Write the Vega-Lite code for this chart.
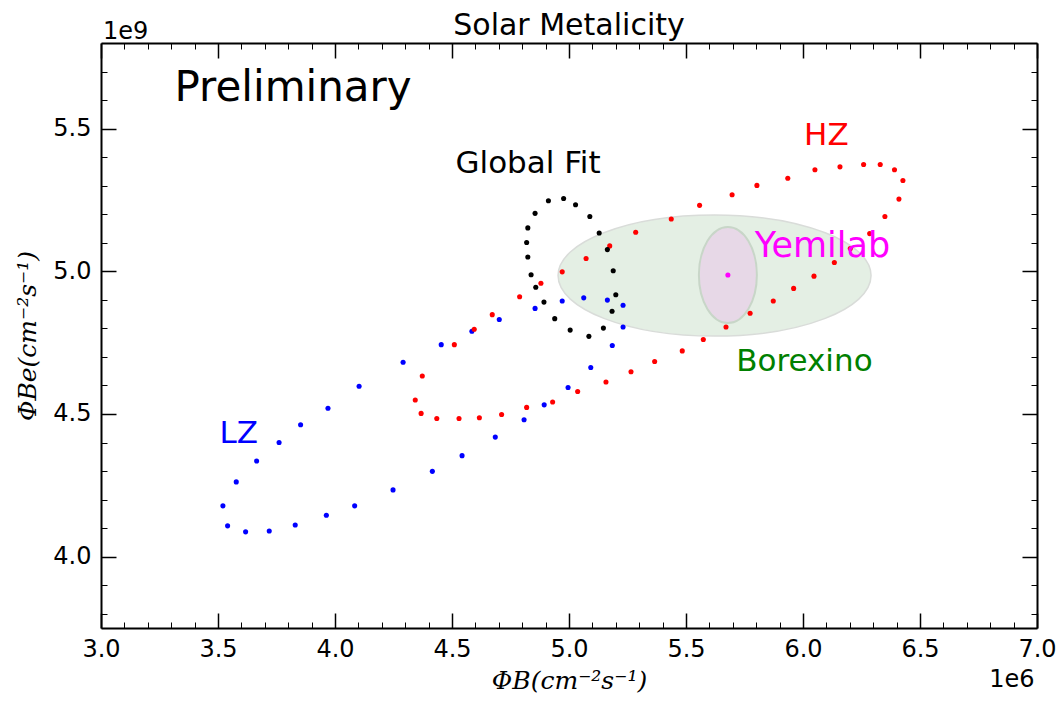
{
  "$schema": "https://vega.github.io/schema/vega-lite/v6.json",
  "width": 936,
  "height": 585,
  "autosize": "none",
  "padding": {"left": 101, "top": 43, "right": 26, "bottom": 80},
  "background": "white",
  "title": {"text": "Solar Metalicity", "fontSize": 30, "font": "DejaVu Sans", "fontWeight": "normal", "color": "black", "anchor": "middle", "frame": "group", "offset": -21},
  "config": {"view": {"stroke": null}, "font": "DejaVu Sans"},
  "datasets": {
    "points": [
      {"s": "LZ", "x": 3.521, "y": 4.178}, {"s": "LZ", "x": 3.578, "y": 4.262}, {"s": "LZ", "x": 3.665, "y": 4.335}, {"s": "LZ", "x": 3.761, "y": 4.400},
      {"s": "LZ", "x": 3.853, "y": 4.462}, {"s": "LZ", "x": 3.970, "y": 4.520}, {"s": "LZ", "x": 4.103, "y": 4.597}, {"s": "LZ", "x": 4.291, "y": 4.681},
      {"s": "LZ", "x": 4.454, "y": 4.743}, {"s": "LZ", "x": 4.585, "y": 4.790}, {"s": "LZ", "x": 4.702, "y": 4.831}, {"s": "LZ", "x": 4.855, "y": 4.870},
      {"s": "LZ", "x": 4.971, "y": 4.896}, {"s": "LZ", "x": 5.063, "y": 4.907}, {"s": "LZ", "x": 5.164, "y": 4.899}, {"s": "LZ", "x": 5.231, "y": 4.881},
      {"s": "LZ", "x": 5.231, "y": 4.805}, {"s": "LZ", "x": 5.185, "y": 4.740}, {"s": "LZ", "x": 5.093, "y": 4.663}, {"s": "LZ", "x": 4.996, "y": 4.593},
      {"s": "LZ", "x": 4.894, "y": 4.532}, {"s": "LZ", "x": 4.808, "y": 4.480}, {"s": "LZ", "x": 4.685, "y": 4.419}, {"s": "LZ", "x": 4.543, "y": 4.354},
      {"s": "LZ", "x": 4.416, "y": 4.299}, {"s": "LZ", "x": 4.248, "y": 4.234}, {"s": "LZ", "x": 4.084, "y": 4.178}, {"s": "LZ", "x": 3.963, "y": 4.145},
      {"s": "LZ", "x": 3.830, "y": 4.111}, {"s": "LZ", "x": 3.719, "y": 4.090}, {"s": "LZ", "x": 3.618, "y": 4.087}, {"s": "LZ", "x": 3.541, "y": 4.108},
      {"s": "HZ", "x": 4.343, "y": 4.549}, {"s": "HZ", "x": 4.373, "y": 4.633}, {"s": "HZ", "x": 4.510, "y": 4.743}, {"s": "HZ", "x": 4.595, "y": 4.797},
      {"s": "HZ", "x": 4.672, "y": 4.848}, {"s": "HZ", "x": 4.789, "y": 4.911}, {"s": "HZ", "x": 4.880, "y": 4.958}, {"s": "HZ", "x": 4.971, "y": 4.998},
      {"s": "HZ", "x": 5.073, "y": 5.045}, {"s": "HZ", "x": 5.174, "y": 5.089}, {"s": "HZ", "x": 5.285, "y": 5.137}, {"s": "HZ", "x": 5.437, "y": 5.183},
      {"s": "HZ", "x": 5.558, "y": 5.231}, {"s": "HZ", "x": 5.697, "y": 5.268}, {"s": "HZ", "x": 5.803, "y": 5.301}, {"s": "HZ", "x": 5.935, "y": 5.326},
      {"s": "HZ", "x": 6.051, "y": 5.356}, {"s": "HZ", "x": 6.158, "y": 5.366}, {"s": "HZ", "x": 6.259, "y": 5.374}, {"s": "HZ", "x": 6.330, "y": 5.374},
      {"s": "HZ", "x": 6.391, "y": 5.356}, {"s": "HZ", "x": 6.427, "y": 5.318}, {"s": "HZ", "x": 6.410, "y": 5.253}, {"s": "HZ", "x": 6.350, "y": 5.192},
      {"s": "HZ", "x": 6.285, "y": 5.132}, {"s": "HZ", "x": 6.202, "y": 5.080}, {"s": "HZ", "x": 6.134, "y": 5.031}, {"s": "HZ", "x": 6.047, "y": 4.983},
      {"s": "HZ", "x": 5.960, "y": 4.940}, {"s": "HZ", "x": 5.873, "y": 4.896}, {"s": "HZ", "x": 5.774, "y": 4.853}, {"s": "HZ", "x": 5.671, "y": 4.805},
      {"s": "HZ", "x": 5.574, "y": 4.761}, {"s": "HZ", "x": 5.484, "y": 4.721}, {"s": "HZ", "x": 5.366, "y": 4.684}, {"s": "HZ", "x": 5.265, "y": 4.648},
      {"s": "HZ", "x": 5.158, "y": 4.612}, {"s": "HZ", "x": 5.037, "y": 4.579}, {"s": "HZ", "x": 4.930, "y": 4.542}, {"s": "HZ", "x": 4.819, "y": 4.523},
      {"s": "HZ", "x": 4.712, "y": 4.498}, {"s": "HZ", "x": 4.617, "y": 4.487}, {"s": "HZ", "x": 4.530, "y": 4.484}, {"s": "HZ", "x": 4.435, "y": 4.484},
      {"s": "HZ", "x": 4.368, "y": 4.502},
      {"s": "Global Fit", "x": 4.912, "y": 5.247}, {"s": "Global Fit", "x": 4.977, "y": 5.255}, {"s": "Global Fit", "x": 5.028, "y": 5.233}, {"s": "Global Fit", "x": 5.089, "y": 5.192},
      {"s": "Global Fit", "x": 5.129, "y": 5.134}, {"s": "Global Fit", "x": 5.164, "y": 5.076}, {"s": "Global Fit", "x": 5.189, "y": 5.002}, {"s": "Global Fit", "x": 5.200, "y": 4.918},
      {"s": "Global Fit", "x": 5.184, "y": 4.860}, {"s": "Global Fit", "x": 5.147, "y": 4.801}, {"s": "Global Fit", "x": 5.085, "y": 4.772}, {"s": "Global Fit", "x": 5.005, "y": 4.794},
      {"s": "Global Fit", "x": 4.939, "y": 4.834}, {"s": "Global Fit", "x": 4.893, "y": 4.892}, {"s": "Global Fit", "x": 4.858, "y": 4.944}, {"s": "Global Fit", "x": 4.838, "y": 4.988},
      {"s": "Global Fit", "x": 4.824, "y": 5.050}, {"s": "Global Fit", "x": 4.819, "y": 5.101}, {"s": "Global Fit", "x": 4.824, "y": 5.152}, {"s": "Global Fit", "x": 4.855, "y": 5.203},
      {"s": "Yemilab", "x": 5.679, "y": 4.987}
    ],
    "ellipses": [
      {"name": "Borexino", "x": 5.622, "y": 4.985},
      {"name": "Yemilab", "x": 5.679, "y": 4.987}
    ],
    "labels": [
      {"text": "Preliminary", "s": "Preliminary", "x": 3.821, "y": 5.598},
      {"text": "Global Fit", "s": "Global Fit", "x": 4.825, "y": 5.345},
      {"text": "HZ", "s": "HZ", "x": 6.100, "y": 5.444},
      {"text": "Yemilab", "s": "Yemilab", "x": 6.083, "y": 5.049},
      {"text": "Borexino", "s": "Borexino", "x": 6.006, "y": 4.649},
      {"text": "LZ", "s": "LZ", "x": 3.589, "y": 4.397},
      {"text": "1e9", "s": "axis", "x": 3.105, "y": 5.815},
      {"text": "1e6", "s": "axis", "x": 6.893, "y": 3.5415}
    ]
  },
  "layer": [
    {
      "data": {"name": "ellipses"},
      "transform": [{"filter": "datum.name === 'Borexino'"}],
      "mark": {"type": "point", "shape": "M-1,0A1,0.3866,0,1,1,1,0A1,0.3866,0,1,1,-1,0Z", "size": 97969, "filled": true, "fill": "#e4efe4", "stroke": "#d9dcd9", "strokeWidth": 1.5, "opacity": 1},
      "encoding": {
        "x": {"field": "x", "type": "quantitative", "scale": {"domain": [3, 7], "nice": false, "zero": false},
          "axis": {"orient": "bottom", "values": [3, 3.5, 4, 4.5, 5, 5.5, 6, 6.5, 7], "format": ".1f", "tickSize": -15, "tickWidth": 1.5, "tickColor": "black", "domain": true, "domainColor": "black", "domainWidth": 2, "grid": false,
            "labelFont": "DejaVu Sans", "labelFontSize": 24, "labelColor": "black", "labelPadding": 24, "labelFlush": false, "labelOverlap": false,
            "title": "ΦB(cm⁻²s⁻¹)", "titleFont": "DejaVu Serif", "titleFontStyle": "italic", "titleFontWeight": "normal", "titleFontSize": 25, "titleColor": "black", "titlePadding": 7}},
        "y": {"field": "y", "type": "quantitative", "scale": {"domain": [3.75, 5.8], "nice": false, "zero": false},
          "axis": {"orient": "left", "values": [4, 4.5, 5, 5.5], "format": ".1f", "tickSize": -15, "tickWidth": 1.5, "tickColor": "black", "domain": true, "domainColor": "black", "domainWidth": 2, "grid": false,
            "labelFont": "DejaVu Sans", "labelFontSize": 24, "labelColor": "black", "labelPadding": 25, "labelOverlap": false, "labelFlush": false,
            "title": "ΦBe(cm⁻²s⁻¹)", "titleFont": "DejaVu Serif", "titleFontStyle": "italic", "titleFontWeight": "normal", "titleFontSize": 25, "titleColor": "black", "titlePadding": 12}}
      }
    },
    {
      "data": {"name": "ellipses"},
      "transform": [{"filter": "datum.name === 'Yemilab'"}],
      "mark": {"type": "point", "shape": "M-0.604,0A0.604,1,0,1,1,0.604,0A0.604,1,0,1,1,-0.604,0Z", "size": 9216, "filled": true, "fill": "#e7d8e7", "stroke": "#c8d6c8", "strokeWidth": 2, "opacity": 1},
      "encoding": {
        "x": {"field": "x", "type": "quantitative", "scale": {"domain": [3, 7], "nice": false, "zero": false},
          "axis": {"orient": "bottom", "values": [3.1, 3.2, 3.3, 3.4, 3.6, 3.7, 3.8, 3.9, 4.1, 4.2, 4.3, 4.4, 4.6, 4.7, 4.8, 4.9, 5.1, 5.2, 5.3, 5.4, 5.6, 5.7, 5.8, 5.9, 6.1, 6.2, 6.3, 6.4, 6.6, 6.7, 6.8, 6.9], "tickSize": -6, "tickWidth": 1, "tickColor": "black", "labels": false, "domain": false, "grid": false, "title": null}},
        "y": {"field": "y", "type": "quantitative", "scale": {"domain": [3.75, 5.8], "nice": false, "zero": false},
          "axis": {"orient": "left", "values": [3.8, 3.9, 4.1, 4.2, 4.3, 4.4, 4.6, 4.7, 4.8, 4.9, 5.1, 5.2, 5.3, 5.4, 5.6, 5.7], "tickSize": -6, "tickWidth": 1, "tickColor": "black", "labels": false, "domain": false, "grid": false, "title": null}}
      }
    },
    {
      "data": {"name": "points"},
      "mark": {"type": "circle", "size": 26, "opacity": 1},
      "encoding": {
        "x": {"field": "x", "type": "quantitative", "scale": {"domain": [3, 7], "nice": false, "zero": false},
          "axis": {"orient": "top", "values": [3, 3.5, 4, 4.5, 5, 5.5, 6, 6.5, 7], "tickSize": -15, "tickWidth": 1.5, "tickColor": "black", "labels": false, "domain": true, "domainColor": "black", "domainWidth": 2, "grid": false, "title": null}},
        "y": {"field": "y", "type": "quantitative", "scale": {"domain": [3.75, 5.8], "nice": false, "zero": false},
          "axis": {"orient": "right", "values": [4, 4.5, 5, 5.5], "tickSize": -15, "tickWidth": 1.5, "tickColor": "black", "labels": false, "domain": true, "domainColor": "black", "domainWidth": 2, "grid": false, "title": null}},
        "color": {"field": "s", "type": "nominal", "legend": null,
          "scale": {"domain": ["LZ", "HZ", "Global Fit", "Yemilab", "Borexino", "Preliminary", "axis"], "range": ["#0000ff", "#ff0000", "#000000", "#ff00ff", "#008000", "#000000", "#000000"]}}
      }
    },
    {
      "data": {"name": "labels"},
      "transform": [{"filter": "indexof(['Global Fit','HZ','LZ','Borexino'], datum.s) >= 0"}],
      "mark": {"type": "text", "font": "DejaVu Sans", "fontSize": 31, "align": "center", "baseline": "alphabetic"},
      "encoding": {
        "x": {"field": "x", "type": "quantitative", "scale": {"domain": [3, 7], "nice": false, "zero": false},
          "axis": {"orient": "top", "values": [3.1, 3.2, 3.3, 3.4, 3.6, 3.7, 3.8, 3.9, 4.1, 4.2, 4.3, 4.4, 4.6, 4.7, 4.8, 4.9, 5.1, 5.2, 5.3, 5.4, 5.6, 5.7, 5.8, 5.9, 6.1, 6.2, 6.3, 6.4, 6.6, 6.7, 6.8, 6.9], "tickSize": -6, "tickWidth": 1, "tickColor": "black", "labels": false, "domain": false, "grid": false, "title": null}},
        "y": {"field": "y", "type": "quantitative", "scale": {"domain": [3.75, 5.8], "nice": false, "zero": false},
          "axis": {"orient": "right", "values": [3.8, 3.9, 4.1, 4.2, 4.3, 4.4, 4.6, 4.7, 4.8, 4.9, 5.1, 5.2, 5.3, 5.4, 5.6, 5.7], "tickSize": -6, "tickWidth": 1, "tickColor": "black", "labels": false, "domain": false, "grid": false, "title": null}},
        "text": {"field": "text"},
        "color": {"field": "s", "type": "nominal", "legend": null,
          "scale": {"domain": ["LZ", "HZ", "Global Fit", "Yemilab", "Borexino", "Preliminary", "axis"], "range": ["#0000ff", "#ff0000", "#000000", "#ff00ff", "#008000", "#000000", "#000000"]}}
      }
    },
    {
      "data": {"name": "labels"},
      "transform": [{"filter": "datum.s === 'Yemilab'"}],
      "mark": {"type": "text", "font": "DejaVu Sans", "fontSize": 35, "align": "center", "baseline": "alphabetic"},
      "encoding": {
        "x": {"field": "x", "type": "quantitative", "scale": {"domain": [3, 7], "nice": false, "zero": false}, "axis": null},
        "y": {"field": "y", "type": "quantitative", "scale": {"domain": [3.75, 5.8], "nice": false, "zero": false}, "axis": null},
        "text": {"field": "text"},
        "color": {"field": "s", "type": "nominal", "legend": null,
          "scale": {"domain": ["LZ", "HZ", "Global Fit", "Yemilab", "Borexino", "Preliminary", "axis"], "range": ["#0000ff", "#ff0000", "#000000", "#ff00ff", "#008000", "#000000", "#000000"]}}
      }
    },
    {
      "data": {"name": "labels"},
      "transform": [{"filter": "datum.s === 'Preliminary'"}],
      "mark": {"type": "text", "font": "DejaVu Sans", "fontSize": 42, "align": "center", "baseline": "alphabetic", "color": "black"},
      "encoding": {
        "x": {"field": "x", "type": "quantitative", "scale": {"domain": [3, 7], "nice": false, "zero": false}, "axis": null},
        "y": {"field": "y", "type": "quantitative", "scale": {"domain": [3.75, 5.8], "nice": false, "zero": false}, "axis": null},
        "text": {"field": "text"}
      }
    },
    {
      "data": {"name": "labels"},
      "transform": [{"filter": "datum.s === 'axis'"}],
      "mark": {"type": "text", "font": "DejaVu Sans", "fontSize": 24, "align": "center", "baseline": "alphabetic", "color": "black"},
      "encoding": {
        "x": {"field": "x", "type": "quantitative", "scale": {"domain": [3, 7], "nice": false, "zero": false}, "axis": null},
        "y": {"field": "y", "type": "quantitative", "scale": {"domain": [3.75, 5.8], "nice": false, "zero": false}, "axis": null},
        "text": {"field": "text"}
      }
    }
  ],
  "resolve": {"axis": {"x": "independent", "y": "independent"}}
}
